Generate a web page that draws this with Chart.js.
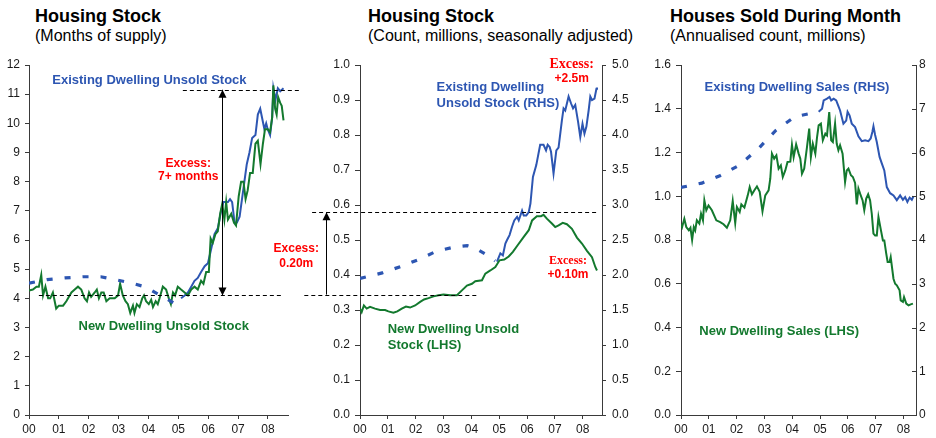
<!DOCTYPE html>
<html>
<head>
<meta charset="utf-8">
<title>Housing Stock</title>
<script src="https://cdn.jsdelivr.net/npm/chart.js@4.4.0/dist/chart.umd.min.js"></script>
<style>
  body { margin: 0; background: #fff; width: 936px; height: 438px; overflow: hidden; position: relative;
         font-family: "Liberation Sans", Arial, sans-serif; }
  canvas { position: absolute; top: 0; }
  .title { position: absolute; font-weight: bold; font-size: 18px; line-height: 18px; color: #000; white-space: nowrap; }
  .sub { position: absolute; font-size: 16px; line-height: 16px; color: #000; white-space: nowrap; }
</style>
</head>
<body>
<div class="title" style="left:35px; top:7px">Housing Stock</div>
<div class="sub" style="left:35px; top:28px">(Months of supply)</div>
<div class="title" style="left:368px; top:7px">Housing Stock</div>
<div class="sub" style="left:368px; top:28px">(Count, millions, seasonally adjusted)</div>
<div class="title" style="left:670px; top:7px">Houses Sold During Month</div>
<div class="sub" style="left:670px; top:28px">(Annualised count, millions)</div>

<canvas id="stockMonths" width="310" height="438" style="left:0px"></canvas>
<canvas id="stockCount" width="370" height="438" style="left:265px"></canvas>
<canvas id="sales" width="301" height="438" style="left:635px"></canvas>

<script>
// x values are years since Jan 2000
const yearTicks = [0, 1, 2, 3, 4, 5, 6, 7, 8];
const yearLabels = ['00', '01', '02', '03', '04', '05', '06', '07', '08'];

// Months of supply
const newMonthsSupply = [[0.00,4.27],[0.13,4.3],[0.25,4.4],[0.33,4.4],[0.41,4.8],[0.47,4.1],[0.55,4.4],[0.64,4.0],[0.71,4.0],[0.80,4.2],[0.91,3.65],[1.00,3.75],[1.14,3.75],[1.25,3.9],[1.42,4.2],[1.53,4.3],[1.64,4.4],[1.75,4.3],[1.86,4.0],[1.94,3.9],[2.01,4.2],[2.08,4.05],[2.20,4.2],[2.27,4.3],[2.34,4.0],[2.42,4.2],[2.50,4.2],[2.59,3.9],[2.70,4.0],[2.87,4.0],[2.98,4.1],[3.05,4.5],[3.14,4.1],[3.23,3.9],[3.31,3.8],[3.39,3.5],[3.48,3.75],[3.53,3.5],[3.61,3.8],[3.70,3.7],[3.79,4.0],[3.85,4.1],[3.92,3.9],[4.01,3.8],[4.09,3.95],[4.15,3.7],[4.24,3.9],[4.31,3.8],[4.37,4.0],[4.48,4.4],[4.59,4.3],[4.68,4.0],[4.75,3.8],[4.82,4.2],[4.89,4.1],[4.98,4.4],[5.09,4.3],[5.21,4.2],[5.32,4.1],[5.43,4.3],[5.54,4.4],[5.65,4.3],[5.76,4.6],[5.84,4.5],[5.93,4.9],[6.02,4.9],[6.08,6.05],[6.15,5.9],[6.24,6.2],[6.32,6.3],[6.40,6.9],[6.47,7.25],[6.54,6.7],[6.60,7.3],[6.66,6.7],[6.77,6.9],[6.86,6.6],[6.93,6.5],[7.02,7.5],[7.10,8.0],[7.18,8.0],[7.25,7.4],[7.32,7.7],[7.40,8.3],[7.49,8.3],[7.58,9.3],[7.66,9.4],[7.75,8.6],[7.83,9.3],[7.90,9.8],[7.99,9.8],[8.07,9.7],[8.14,10.2],[8.18,11.3],[8.24,10.5],[8.29,10.3],[8.34,10.9],[8.41,10.7],[8.46,10.6],[8.52,10.1]];
const existingMonthsEarly = [[0.0,4.52],[0.6,4.64],[1.2,4.7],[1.8,4.74],[2.4,4.74],[2.9,4.64],[3.4,4.53],[3.9,4.39],[4.4,4.1],[5.0,3.75]];
const existingMonthsSupply = [[5.09,4.0],[5.21,4.1],[5.32,4.2],[5.43,4.4],[5.54,4.6],[5.65,4.7],[5.76,4.9],[5.88,5.1],[5.99,5.2],[6.10,5.7],[6.21,6.2],[6.32,6.4],[6.43,7.0],[6.51,7.3],[6.66,7.3],[6.73,7.4],[6.80,7.3],[6.88,6.6],[6.96,6.6],[7.05,6.8],[7.13,7.4],[7.21,8.0],[7.29,8.6],[7.38,9.0],[7.47,9.5],[7.58,9.6],[7.66,10.3],[7.74,10.5],[7.80,10.2],[7.88,9.8],[7.94,10.0],[7.99,9.8],[8.07,9.6],[8.14,10.2],[8.18,11.2],[8.25,10.8],[8.33,11.2],[8.41,11.1],[8.52,11.2]];

// Unsold stock, millions (new on LHS, existing on RHS)
const newUnsold = [[0.00,0.304],[0.06,0.294],[0.14,0.313],[0.24,0.304],[0.36,0.309],[0.54,0.304],[0.72,0.30],[0.90,0.30],[1.02,0.296],[1.20,0.292],[1.34,0.296],[1.50,0.304],[1.65,0.31],[1.80,0.307],[1.98,0.313],[2.16,0.323],[2.30,0.33],[2.46,0.334],[2.64,0.339],[2.82,0.342],[3.00,0.344],[3.24,0.342],[3.48,0.342],[3.66,0.356],[3.84,0.37],[4.02,0.375],[4.14,0.382],[4.38,0.385],[4.50,0.404],[4.68,0.413],[4.86,0.423],[5.01,0.442],[5.18,0.444],[5.34,0.453],[5.49,0.466],[5.66,0.485],[5.88,0.509],[6.06,0.528],[6.18,0.556],[6.35,0.568],[6.50,0.568],[6.59,0.572],[6.71,0.561],[6.89,0.547],[7.01,0.537],[7.13,0.542],[7.28,0.549],[7.43,0.545],[7.61,0.532],[7.79,0.507],[7.97,0.49],[8.15,0.469],[8.33,0.451],[8.45,0.423],[8.51,0.413]];
const existingUnsoldEarly = [[0.0,1.95],[0.8,2.03],[1.45,2.12],[2.1,2.22],[2.75,2.34],[3.4,2.40],[3.85,2.42],[4.1,2.39],[4.5,2.3],[4.85,2.2]];
const existingUnsold = [[4.92,2.19],[5.04,2.31],[5.13,2.28],[5.22,2.45],[5.28,2.50],[5.37,2.57],[5.46,2.69],[5.54,2.78],[5.64,2.83],[5.70,2.78],[5.76,2.85],[5.82,2.92],[5.88,2.85],[5.97,2.85],[6.06,2.90],[6.12,3.02],[6.21,3.40],[6.33,3.57],[6.47,3.86],[6.59,3.86],[6.68,3.78],[6.74,3.86],[6.81,3.83],[6.86,3.76],[6.95,3.45],[7.05,3.78],[7.13,3.82],[7.25,4.21],[7.31,4.38],[7.37,4.35],[7.49,4.55],[7.58,4.45],[7.65,4.38],[7.73,4.43],[7.83,4.19],[7.91,3.97],[7.99,4.16],[8.06,4.02],[8.13,4.12],[8.21,4.35],[8.27,4.55],[8.33,4.5],[8.42,4.52],[8.49,4.66],[8.51,4.68]];

// Sales, annualised millions (new on LHS, existing on RHS)
const newSales = [[0.00,0.872],[0.04,0.859],[0.12,0.897],[0.19,0.859],[0.28,0.844],[0.34,0.856],[0.40,0.80],[0.46,0.859],[0.51,0.844],[0.57,0.89],[0.66,0.875],[0.72,0.92],[0.79,0.89],[0.84,0.981],[0.91,0.936],[0.99,0.958],[1.11,0.936],[1.27,0.89],[1.41,0.882],[1.53,0.872],[1.65,0.856],[1.77,0.89],[1.86,0.978],[1.95,0.878],[2.01,0.951],[2.11,0.928],[2.17,0.963],[2.28,0.948],[2.40,1.004],[2.47,1.042],[2.55,1.009],[2.65,1.03],[2.73,1.045],[2.83,1.02],[2.93,0.931],[3.03,1.004],[3.15,1.027],[3.21,1.08],[3.27,1.195],[3.35,1.172],[3.43,1.187],[3.51,1.126],[3.59,1.141],[3.66,1.088],[3.75,1.118],[3.83,1.157],[3.93,1.158],[3.99,1.235],[4.05,1.179],[4.14,1.237],[4.23,1.195],[4.29,1.172],[4.35,1.103],[4.43,1.126],[4.53,1.225],[4.61,1.309],[4.67,1.179],[4.74,1.24],[4.83,1.195],[4.89,1.268],[4.95,1.324],[5.03,1.332],[5.10,1.256],[5.19,1.286],[5.25,1.278],[5.33,1.385],[5.40,1.256],[5.46,1.248],[5.54,1.332],[5.60,1.24],[5.66,1.21],[5.72,1.233],[5.81,1.195],[5.90,1.065],[5.96,1.118],[6.02,1.126],[6.11,1.096],[6.18,1.088],[6.26,1.061],[6.32,0.963],[6.38,1.035],[6.44,1.012],[6.53,0.981],[6.59,0.936],[6.66,0.989],[6.73,1.009],[6.80,0.981],[6.86,0.92],[6.92,0.829],[6.98,0.821],[7.04,0.821],[7.10,0.905],[7.19,0.844],[7.26,0.798],[7.31,0.798],[7.38,0.738],[7.43,0.70],[7.50,0.70],[7.54,0.722],[7.64,0.623],[7.70,0.60],[7.76,0.593],[7.86,0.57],[7.90,0.524],[7.98,0.517],[8.02,0.539],[8.10,0.509],[8.18,0.501],[8.26,0.506],[8.34,0.509]];
const existingSalesEarly = [[0.0,5.2],[0.75,5.3],[1.4,5.47],[2.1,5.71],[2.8,6.1],[3.4,6.5],[4.1,6.82],[4.7,6.9],[4.9,6.92]];
const existingSales = [[4.95,6.93],[5.07,7.0],[5.13,7.19],[5.25,7.23],[5.34,7.27],[5.40,7.19],[5.49,7.23],[5.58,7.19],[5.66,7.06],[5.72,6.96],[5.84,6.66],[5.94,6.73],[5.99,6.93],[6.06,6.85],[6.14,6.66],[6.26,6.58],[6.38,6.37],[6.50,6.26],[6.62,6.28],[6.74,6.26],[6.82,6.32],[6.88,6.47],[6.92,6.6],[6.98,6.4],[7.04,6.24],[7.14,5.9],[7.22,5.75],[7.31,5.59],[7.40,5.21],[7.52,5.07],[7.64,5.02],[7.76,4.91],[7.88,5.02],[7.98,4.92],[8.06,4.98],[8.14,4.87],[8.22,4.97],[8.30,4.92],[8.36,5.0]];

const BLUE = '#2D56B2';
const GREEN = '#13792E';
const RED = '#FF0000';
const AXIS = '#3a3a3a';
const FONT = '"Liberation Sans", Arial, sans-serif';

Chart.defaults.font.family = FONT;
Chart.defaults.color = '#1a1a1a';

function toXY(pts) {
    return pts.map(p => ({ x: p[0], y: p[1] }));
}

function solidLine(pts, color, axis) {
    return { data: toXY(pts), borderColor: color, borderWidth: 2, pointRadius: 0, tension: 0, yAxisID: axis || 'y' };
}

function dashedLine(pts, color, axis) {
    return { data: toXY(pts), borderColor: color, borderWidth: 3.2, borderDash: [6, 12], borderCapStyle: 'butt',
             pointRadius: 0, tension: 0, yAxisID: axis || 'y' };
}

// years along the bottom
function xAxis(max) {
    return {
        type: 'linear', min: 0, max: max,
        afterBuildTicks: s => { s.ticks = yearTicks.map(v => ({ value: v })); },
        afterFit: s => { s.height = 23; },
        grid: { drawOnChartArea: false, tickLength: 4, color: AXIS },
        border: { color: AXIS, width: 1 },
        ticks: { callback: (v, i) => yearLabels[i], font: { size: 12 }, padding: 3, maxRotation: 0 }
    };
}

function yAxis(pos, max, step, decimals, width, tick, pad) {
    return {
        type: 'linear', position: pos, min: 0, max: max,
        afterFit: s => { s.width = width; },
        grid: { drawOnChartArea: false, drawTicks: tick > 0, tickLength: tick, color: AXIS },
        border: { color: AXIS, width: 1 },
        ticks: { stepSize: step, font: { size: 12 }, padding: pad, callback: v => v.toFixed(decimals) }
    };
}

// dashed guide lines, arrows, text and inward ticks drawn on top of each panel
const notesPlugin = {
    id: 'notes',
    afterDraw(chart, args, opts) {
        const ctx = chart.ctx;
        const X = v => chart.scales.x.getPixelForValue(v);
        const Y = v => chart.scales.y.getPixelForValue(v);
        ctx.save();
        ctx.strokeStyle = '#000';
        ctx.fillStyle = '#000';
        ctx.lineWidth = 1;
        (opts.guides || []).forEach(g => {
            const y = Math.round(Y(g.y)) + 0.5;
            ctx.setLineDash([4, 3]);
            ctx.beginPath();
            ctx.moveTo(X(g.x0), y);
            ctx.lineTo(X(g.x1), y);
            ctx.stroke();
        });
        ctx.setLineDash([]);
        (opts.arrows || []).forEach(a => {
            const x = Math.round(X(a.x)) + 0.5;
            const yb = Y(a.y0), yt = Y(a.y1);
            ctx.beginPath();
            ctx.moveTo(x, yb);
            ctx.lineTo(x, yt);
            ctx.stroke();
            const head = (y, dir) => {
                ctx.beginPath();
                ctx.moveTo(x, y);
                ctx.lineTo(x - 4, y + dir * 8);
                ctx.lineTo(x + 4, y + dir * 8);
                ctx.closePath();
                ctx.fill();
            };
            head(yt, 1);
            if (a.both) head(yb, -1);
        });
        if (opts.innerTicks) {
            const s = chart.scales[opts.innerTicks];
            ctx.strokeStyle = AXIS;
            s.ticks.forEach(t => {
                const y = Math.round(s.getPixelForValue(t.value)) + 0.5;
                ctx.beginPath();
                ctx.moveTo(s.left - 4, y);
                ctx.lineTo(s.left, y);
                ctx.stroke();
            });
        }
        ctx.textBaseline = 'middle';
        (opts.labels || []).forEach(t => {
            ctx.font = t.font;
            ctx.fillStyle = t.color;
            ctx.textAlign = t.align || 'center';
            ctx.fillText(t.text, X(t.x), Y(t.y));
        });
        ctx.restore();
    }
};

const boldLabel = 'bold 13px ' + FONT;
const redLabel = 'bold 12px ' + FONT;

function panel(id, datasets, scales, padRight, notes) {
    return new Chart(document.getElementById(id), {
        type: 'line',
        data: { datasets: datasets },
        options: {
            responsive: false,
            animation: false,
            layout: { padding: { top: 65, right: padRight, left: 0, bottom: 0 } },
            plugins: { legend: { display: false }, tooltip: { enabled: false }, notes: notes },
            scales: scales
        },
        plugins: [notesPlugin]
    });
}

panel('stockMonths', [
    dashedLine(existingMonthsEarly, BLUE),
    solidLine(newMonthsSupply, GREEN),
    solidLine(existingMonthsSupply, BLUE)
], {
    x: xAxis(8.67),
    y: yAxis('left', 12, 1, 0, 29, 4, 5)
}, 22, {
    guides: [{ y: 11.15, x0: 5.15, x1: 9.13 }, { y: 4.1, x0: 0.33, x1: 8.46 }],
    arrows: [{ x: 6.45, y0: 4.1, y1: 11.15, both: true }],
    labels: [
        { text: 'Existing Dwelling Unsold Stock', x: 4.03, y: 11.46, font: boldLabel, color: BLUE },
        { text: 'Excess:', x: 5.33, y: 8.63, font: redLabel, color: RED },
        { text: '7+ months', x: 5.33, y: 8.17, font: redLabel, color: RED },
        { text: 'New Dwelling Unsold Stock', x: 4.51, y: 3.05, font: boldLabel, color: GREEN }
    ]
});

panel('stockCount', [
    dashedLine(existingUnsoldEarly, BLUE, 'y2'),
    solidLine(newUnsold, GREEN),
    solidLine(existingUnsold, BLUE, 'y2')
], {
    x: xAxis(8.69),
    y: yAxis('left', 1, 0.1, 1, 95, 5, 5),
    y2: yAxis('right', 5, 0.5, 1, 33, 4, 6)
}, 0, {
    guides: [{ y: 0.579, x0: -1.72, x1: 8.51 }, { y: 0.344, x0: -2.0, x1: 4.2 }],
    arrows: [{ x: -1.23, y0: 0.344, y1: 0.579 }],
    labels: [
        { text: 'Existing Dwelling', x: 2.75, y: 0.935, font: boldLabel, color: BLUE, align: 'left' },
        { text: 'Unsold Stock (RHS)', x: 2.75, y: 0.89, font: boldLabel, color: BLUE, align: 'left' },
        { text: 'Excess:', x: 7.6, y: 1.003, font: 'bold 14px "Liberation Serif", serif', color: RED },
        { text: '+2.5m', x: 7.6, y: 0.96, font: redLabel, color: RED },
        { text: 'Excess:', x: 7.47, y: 0.44, font: 'bold 12px "Liberation Serif", serif', color: RED },
        { text: '+0.10m', x: 7.47, y: 0.402, font: redLabel, color: RED },
        { text: 'Excess:', x: -2.29, y: 0.474, font: redLabel, color: RED },
        { text: '0.20m', x: -2.29, y: 0.431, font: redLabel, color: RED },
        { text: 'New Dwelling Unsold', x: 0.995, y: 0.245, font: boldLabel, color: GREEN, align: 'left' },
        { text: 'Stock (LHS)', x: 0.995, y: 0.198, font: boldLabel, color: GREEN, align: 'left' }
    ]
});

panel('sales', [
    dashedLine(existingSalesEarly, BLUE, 'y2'),
    solidLine(newSales, GREEN),
    solidLine(existingSales, BLUE, 'y2')
], {
    x: xAxis(8.45),
    y: yAxis('left', 1.6, 0.2, 1, 46, 5, 5),
    y2: yAxis('right', 8, 1, 0, 20, 0, 3)
}, 0, {
    innerTicks: 'y2',
    labels: [
        { text: 'Existing Dwelling Sales (RHS)', x: 4.17, y: 1.498, font: boldLabel, color: BLUE },
        { text: 'New Dwelling Sales (LHS)', x: 3.53, y: 0.384, font: boldLabel, color: GREEN }
    ]
});
</script>
</body>
</html>
